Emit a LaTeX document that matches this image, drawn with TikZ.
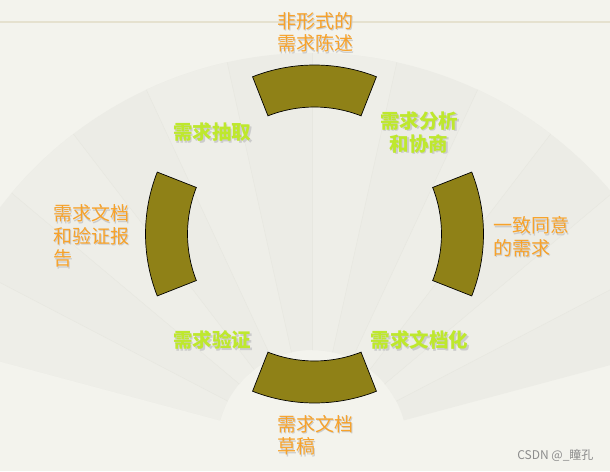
\documentclass[tikz,border=0pt]{standalone}
\usepackage{fontspec}
\usepackage{tikz}
\newfontfamily\cjk{Noto Sans CJK SC}
\definecolor{bgc}{RGB}{243,243,237}
\definecolor{fanc}{RGB}{236,236,230}
\definecolor{fand}{RGB}{238,238,232}
\definecolor{ribc}{RGB}{231,231,224}
\definecolor{linec}{RGB}{229,225,207}
\definecolor{segc}{RGB}{143,129,23}
\definecolor{orangetxt}{RGB}{247,162,42}
\definecolor{greentxt}{RGB}{190,232,45}
\newcommand{\shd}[1]{\makebox[0pt][l]{\hspace{1.5pt}\raisebox{-1.5pt}{\textcolor{black!20}{#1}}}#1}

\begin{document}
\begin{tikzpicture}[x=1pt,y=-1pt,
    seg/.style={draw=black,line width=0.7pt,fill=segc},
    state/.style={text=orangetxt,font=\cjk\fontsize{19}{22.5}\selectfont,inner sep=0pt},
    proc/.style={text=greentxt,font=\cjk\bfseries\fontsize{19.5}{23}\selectfont,inner sep=0pt}]
    \useasboundingbox (0,0) rectangle (610,471);
    \fill[bgc] (0,0) rectangle (610,471);
    \draw[linec,line width=1.5pt] (0,22) -- (610,22);

    % fan in the background
   \begin{scope}[shift={(312,445)}]
    \fill[fanc] (195:95) -- (195:392) arc[start angle=195,end angle=345,radius=392]
        -- (345:95) arc[start angle=345,end angle=195,radius=95] -- cycle;
    \foreach \a in {195,220,...,320}
        \fill[fand] (\a:95) -- (\a:392) arc[start angle=\a,end angle=\a+12.5,radius=392]
            -- (\a+12.5:95) arc[start angle=\a+12.5,end angle=\a,radius=95] -- cycle;
    \foreach \a in {207.5,220,...,335}
        \draw[ribc,line width=0.5pt] (\a:95) -- (\a:392);
   \end{scope}

    % the four segments
   \begin{scope}[shift={(314.5,234)}]
    \foreach \a in {0,90,180,270}
        \draw[seg] (\a-21.5:127) arc[start angle=\a-21.5,end angle=\a+21.5,radius=127]
            -- (\a+21.5:169) arc[start angle=\a+21.5,end angle=\a-21.5,radius=169] -- cycle;
   \end{scope}

    \node (s1) at (315,33) [state,align=left] {\shd{非形式的}\\\shd{需求陈述}};
    \node (s2) at (493,237.5) [state,anchor=west,align=left] {\shd{一致同意}\\\shd{的需求}};
    \node (s3) at (277,436) [state,anchor=west,align=left] {\shd{需求文档}\\\shd{草稿}};
    \node (s4) at (53,237) [state,anchor=west,align=left] {\shd{需求文档}\\\shd{和验证报}\\\shd{告}};

    \node (p1) at (419,133) [proc,align=center] {\shd{需求分析}\\\shd{和协商}};
    \node (p2) at (419.5,341) [proc] {\shd{需求文档化}};
    \node (p3) at (212,341) [proc] {\shd{需求验证}};
    \node (p4) at (212,133) [proc] {\shd{需求抽取}};

    \node (mark) at (597,455) [anchor=east,text=black!45,font=\cjk\fontsize{12}{14}\selectfont] {CSDN @\_瞳孔};
\end{tikzpicture}
\end{document}
